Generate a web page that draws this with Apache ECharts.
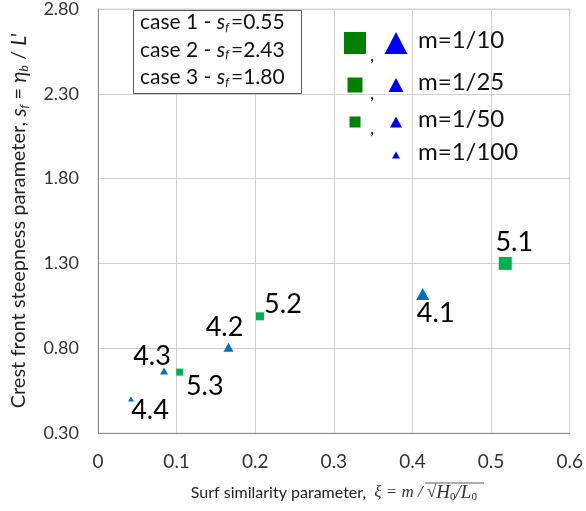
<!DOCTYPE html>
<html><head><meta charset="utf-8">
<script src="https://cdn.jsdelivr.net/npm/echarts@6/dist/echarts.min.js"></script>
<style>html,body{margin:0;padding:0;background:#fff}#c{width:586px;height:511px}</style>
</head><body><div id="c"></div>
<script>
// ---- data ----
const squareCases = ['5.1', '5.2', '5.3'];
const squareXi = [0.518, 0.206, 0.104];
const squareSf = [1.30, 0.988, 0.659];
const squareSlope = ['1/10', '1/25', '1/50'];

const triCases = ['4.1', '4.2', '4.3', '4.4'];
const triXi = [0.413, 0.166, 0.084, 0.042];
const triSf = [1.12, 0.806, 0.665, 0.50];
const triSlope = ['1/10', '1/25', '1/50', '1/100'];

const yTicks = [0.30, 0.80, 1.30, 1.80, 2.30, 2.80];
const xTicks = [0, 0.1, 0.2, 0.3, 0.4, 0.5, 0.6];
const caseNotes = ['case 1 - ', 'case 2 - ', 'case 3 - '];
const caseSf = ['0.55', '2.43', '1.80'];
const legendSlopes = ['1/10', '1/25', '1/50', '1/100'];

// ---- styles ----
const sqSize = {'1/10': 13, '1/25': 8, '1/50': 7};
const triSize = {'1/10': 12, '1/25': 9, '1/50': 7, '1/100': 5};
const labelOffset = {
  '5.1': [9, -21], '5.2': [23, -12], '5.3': [25, 14],
  '4.1': [13, 19], '4.2': [-4, -20], '4.3': [-12, -15], '4.4': [19, 11]
};
const FONT = 'Lato, "Open Sans", sans-serif';

function mk(xs, ys, names, slopes, sizes, sym) {
  return xs.map((x, i) => ({
    value: [x, ys[i]], name: names[i],
    symbol: sym,
    symbolSize: sym === 'triangle' ? [sizes[slopes[i]] + 1, sizes[slopes[i]]] : sizes[slopes[i]],
    label: {show: true, formatter: names[i], position: 'inside', offset: labelOffset[names[i]]}
  }));
}

const chart = echarts.init(document.getElementById('c'), null, {renderer: 'canvas'});

const graphics = [];
// case box
graphics.push({type: 'rect', shape: {x: 133.5, y: 10.5, width: 168, height: 83},
  style: {fill: '#fff', stroke: '#555', lineWidth: 1}, z: 10});
caseNotes.forEach((t, i) => {
  graphics.push({type: 'text', left: 140, top: 12 + i * 27.5, z: 11,
    style: {rich: {
      a: {fontFamily: FONT, fontSize: 21, fill: '#111'},
      s: {fontFamily: FONT, fontSize: 21, fontStyle: 'italic', fill: '#111'},
      f: {fontFamily: FONT, fontSize: 12, fontStyle: 'italic', fill: '#111', padding: [9, 2, 0, 0]}
    }, text: '{a|' + t + '}{s|s}{f|f}{a|=' + caseSf[i] + '}'}});
});
// slope legend
const legRows = [
  {y: 43, sq: 22, tri: 22, showSq: true},
  {y: 85, sq: 15, tri: 14, showSq: true},
  {y: 122, sq: 11, tri: 11, showSq: true},
  {y: 155, sq: 0, tri: 7, showSq: false}
];
legendSlopes.forEach((m, i) => {
  const r = legRows[i];
  if (r.showSq) {
    graphics.push({type: 'rect', z: 11, shape: {x: 355 - r.sq / 2, y: r.y - r.sq / 2, width: r.sq, height: r.sq},
      style: {fill: '#008000'}});
    graphics.push({type: 'text', z: 11, left: 370, top: r.y + r.sq / 2 - 8,
      style: {text: ',', fontFamily: FONT, fontSize: 18, fill: '#222'}});
  }
  graphics.push({type: 'polygon', z: 11, shape: {points: [[396, r.y - r.tri / 2], [396 - r.tri / 2 - 0.5, r.y + r.tri / 2], [396 + r.tri / 2 + 0.5, r.y + r.tri / 2]]},
    style: {fill: '#0000FF'}});
  graphics.push({type: 'text', z: 11, left: 418, top: r.y - 15,
    style: {text: 'm=' + m, fontFamily: FONT, fontSize: 24, fill: '#111'}});
});
// overline for sqrt in x-axis title
graphics.push({type: 'line', z: 11, shape: {x1: 425, y1: 483, x2: 484, y2: 483}, style: {stroke: '#333', lineWidth: 0.8}});

chart.setOption({
  animation: false,
  grid: {left: 98, right: 14, top: 8, bottom: 78, show: true, borderColor: '#d9d9d9', borderWidth: 1},
  xAxis: {
    type: 'value', min: xTicks[0], max: xTicks[xTicks.length - 1], interval: 0.1,
    axisLine: {show: true, onZero: false, lineStyle: {color: '#8c8c8c'}},
    axisTick: {show: false},
    splitLine: {show: true, lineStyle: {color: '#d0d0d0'}},
    axisLabel: {fontFamily: FONT, fontSize: 19, color: '#333', margin: 19,
      formatter: v => v === 0 ? '0' : String(Math.round(v * 10) / 10)},
    name: '{a|Surf similarity parameter,  }{b|ξ = m / √}{c|H}{d|0}{c|/L}{d|0}',
    nameLocation: 'middle', nameGap: 50,
    nameTextStyle: {rich: {
      a: {fontFamily: FONT, fontSize: 16, color: '#222'},
      b: {fontFamily: '"Liberation Serif", serif', fontSize: 17, fontStyle: 'italic', color: '#333'},
      c: {fontFamily: '"Liberation Serif", serif', fontSize: 19, fontStyle: 'italic', color: '#333'},
      d: {fontFamily: '"Liberation Serif", serif', fontSize: 11, color: '#333', padding: [9, 0, 0, 0]}
    }}
  },
  yAxis: {
    type: 'value', min: yTicks[0], max: yTicks[yTicks.length - 1], interval: 0.5,
    axisLine: {show: true, onZero: false, lineStyle: {color: '#8c8c8c'}},
    axisTick: {show: false},
    splitLine: {show: true, lineStyle: {color: '#d0d0d0'}},
    axisLabel: {fontFamily: FONT, fontSize: 18, color: '#333', margin: 19, padding: [5, 0, 0, 0],
      formatter: v => v.toFixed(2)},
    name: '{a|Crest front steepness parameter, }{s|s}{f|f}{a| = }{s|η}{f|b}{a| / }{s|L\'}',
    nameLocation: 'middle', nameGap: 68, nameRotate: 90,
    nameTextStyle: {rich: {
      a: {fontFamily: FONT, fontSize: 20, color: '#222'},
      s: {fontFamily: FONT, fontSize: 21, fontStyle: 'italic', color: '#222'},
      f: {fontFamily: FONT, fontSize: 12, fontStyle: 'italic', color: '#222', padding: [10, 0, 0, 0]}
    }}
  },
  series: [
    {type: 'scatter', name: 'case 5', data: mk(squareXi, squareSf, squareCases, squareSlope, sqSize, 'rect'),
      itemStyle: {color: '#00B050', opacity: 1},
      label: {color: '#000', fontFamily: FONT, fontSize: 27}},
    {type: 'scatter', name: 'case 4', data: mk(triXi, triSf, triCases, triSlope, triSize, 'triangle'),
      itemStyle: {color: '#0070C0', opacity: 1},
      label: {color: '#000', fontFamily: FONT, fontSize: 27}}
  ],
  graphic: graphics
});
</script></body></html>
